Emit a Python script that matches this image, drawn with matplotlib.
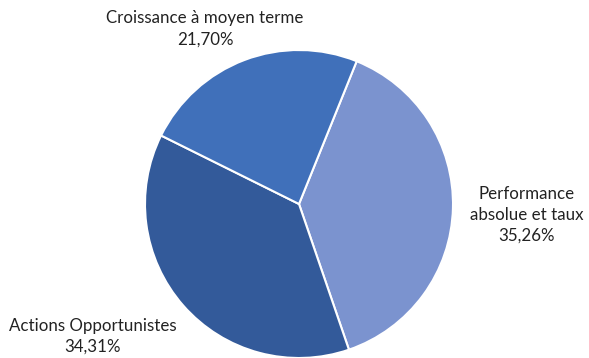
import matplotlib.pyplot as plt

categories = ['Performance\nabsolue et taux', 'Actions Opportunistes', 'Croissance à moyen terme']
values = [35.26, 34.31, 21.70]
colors = ['#7B93CF', '#335A9A', '#4070BA']
label_pos = [(1.48, -0.07), (-1.34, -0.86), (-0.61, 1.136)]

plt.rcParams['font.family'] = ['Lato', 'DejaVu Sans']

W, H = 589, 358
cx, cy, r = 299, 204, 154

fig = plt.figure(figsize=(W / 100, H / 100), dpi=100)
ax = fig.add_axes([0, 0, 1, 1])

ax.pie(values, colors=colors, startangle=68, counterclock=False,
       wedgeprops=dict(edgecolor='white', linewidth=1.5))

for cat, val, (x, y) in zip(categories, values, label_pos):
    txt = f"{cat}\n{val:.2f}%".replace('.', ',')
    ax.text(x, y, txt, ha='center', va='center', fontsize=12.2,
            color='#222222', linespacing=1.4)

ax.set_xlim(-cx / r, (W - cx) / r)
ax.set_ylim(-(H - cy) / r, cy / r)
ax.set_aspect('auto')
ax.axis('off')

fig.savefig('out.png', dpi=100)
